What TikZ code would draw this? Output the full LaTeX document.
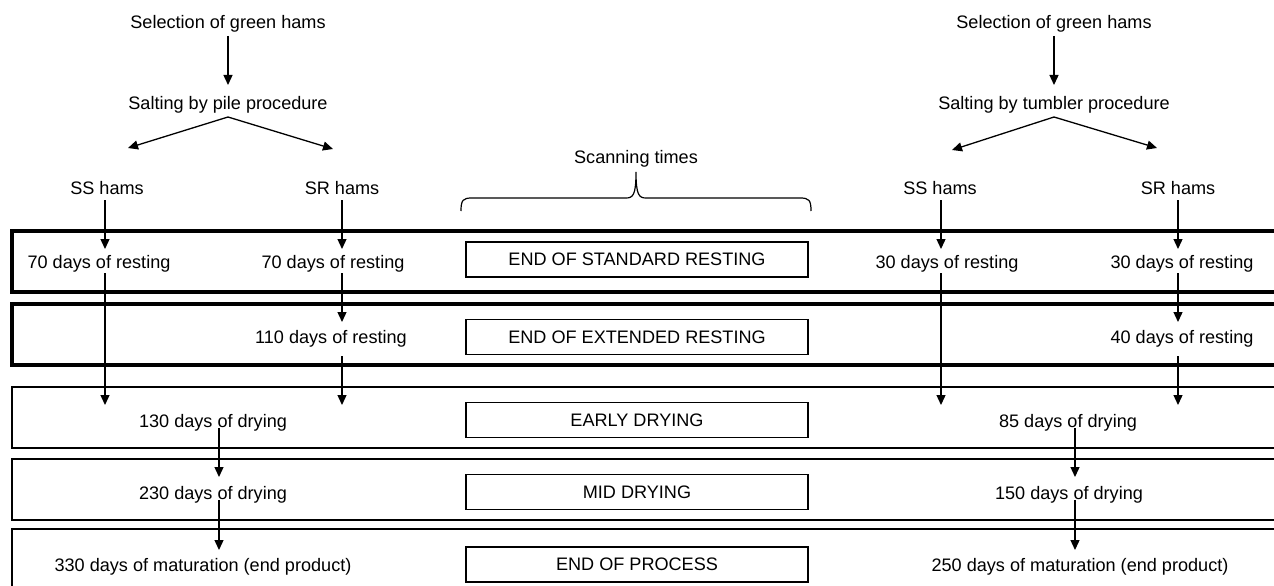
\documentclass[tikz,border=0pt]{standalone}
\usepackage{fontspec}
\setmainfont{Liberation Sans}
\usetikzlibrary{arrows.meta,calc}
\begin{document}
\begin{tikzpicture}[x=1pt,y=-1pt,
  lbl/.style={anchor=base,inner sep=0pt,font=\fontsize{18.1}{20}\selectfont},
  scanbox/.style={draw,line width=1.5pt,minimum width=342pt,minimum height=35pt,inner sep=0pt,font=\fontsize{18.1}{20}\selectfont},
  arr/.style={line width=1.3pt,-{Triangle[length=10pt,width=9pt]}},
  thickband/.style={line width=3.5pt},
  thinband/.style={line width=2pt}]
\useasboundingbox (0,0) rectangle (1274,586);
\clip (0,0) rectangle (1274,586);

% bands
\draw[thickband] (12,231) rectangle (1300,292);
\draw[thickband] (12,304) rectangle (1300,365);
\draw[thinband] (12,387) rectangle (1300,448);
\draw[thinband] (1300,459) -- (12,459) -- (12,520) -- (1300,520);
\draw[thinband] (12,529) rectangle (1300,610);

% column coordinates
\coordinate (cL) at (228,0);
\coordinate (cR) at (1054,0);
\coordinate (cSSL) at (105,0);
\coordinate (cSRL) at (342,0);
\coordinate (cDL) at (219,0);
\coordinate (cSSR) at (941,0);
\coordinate (cSRR) at (1178,0);
\coordinate (cDR) at (1075,0);

% left tree
\node[lbl] (selL) at (228,29) {Selection of green hams};
\node[lbl] (saltL) at (228,110) {Salting by pile procedure};
\node[lbl] (ssL) at (107,194) {SS hams};
\node[lbl] (srL) at (342,194) {SR hams};
\node[lbl] (r70a) at (99,268) {70 days of resting};
\node[lbl] (r70b) at (333,268) {70 days of resting};
\node[lbl] (r110) at (331,343) {110 days of resting};
\node[lbl] (d130) at (213,427) {130 days of drying};
\node[lbl] (d230) at (213,499) {230 days of drying};
\node[lbl] (m330) at (203,571) {330 days of maturation (end product)};

% right tree
\node[lbl] (selR) at (1054,29) {Selection of green hams};
\node[lbl] (saltR) at (1054,110) {Salting by tumbler procedure};
\node[lbl] (ssR) at (940,194) {SS hams};
\node[lbl] (srR) at (1178,194) {SR hams};
\node[lbl] (r30a) at (947,268) {30 days of resting};
\node[lbl] (r30b) at (1182,268) {30 days of resting};
\node[lbl] (r40) at (1182,343) {40 days of resting};
\node[lbl] (d85) at (1068,427) {85 days of drying};
\node[lbl] (d150) at (1069,499) {150 days of drying};
\node[lbl] (m250) at (1080,571) {250 days of maturation (end product)};

% scanning times
\node[lbl] (scan) at (636,163) {Scanning times};
\draw[line width=1.2pt] (461,211) .. controls (461,200) and (463,198) .. (472,198) -- (626,198)
  .. controls (633,198) and (636,195) .. (636,172)
  .. controls (636,195) and (639,198) .. (646,198) -- (800,198)
  .. controls (809,198) and (811,200) .. (811,211);
\node[scanbox] (b1) at (637,259.5) {END OF STANDARD RESTING};
\node[scanbox] (b2) at (637,337) {END OF EXTENDED RESTING};
\node[scanbox] (b3) at (637,420) {EARLY DRYING};
\node[scanbox] (b4) at (637,492) {MID DRYING};
\node[scanbox] (b5) at (637,564.5) {END OF PROCESS};

% left connectors
\draw[arr] ($(cL |- selL.base)+(0,7)$) -- ($(cL |- saltL.base)+(0,-25)$);
\draw[arr] ($(cL |- saltL.base)+(0,7)$) -- (128,148);
\draw[arr] ($(cL |- saltL.base)+(0,7)$) -- (333,149);
\draw[arr] ($(cSSL |- ssL.base)+(0,6)$) -- ($(cSSL |- r70a.base)+(0,-19)$);
\draw[arr] ($(cSSL |- r70a.base)+(0,5)$) -- ($(cSSL |- d130.base)+(0,-22)$);
\draw[arr] ($(cSRL |- srL.base)+(0,6)$) -- ($(cSRL |- r70b.base)+(0,-19)$);
\draw[arr] ($(cSRL |- r70b.base)+(0,5)$) -- ($(cSRL |- r110.base)+(0,-21)$);
\draw[arr] ($(cSRL |- r110.base)+(0,13)$) -- ($(cSRL |- d130.base)+(0,-22)$);
\draw[arr] ($(cDL |- d130.base)+(0,1)$) -- ($(cDL |- d230.base)+(0,-22)$);
\draw[arr] ($(cDL |- d230.base)+(0,1)$) -- ($(cDL |- m330.base)+(0,-21)$);

% right connectors
\draw[arr] ($(cR |- selR.base)+(0,7)$) -- ($(cR |- saltR.base)+(0,-25)$);
\draw[arr] ($(cR |- saltR.base)+(0,7)$) -- (952,150);
\draw[arr] ($(cR |- saltR.base)+(0,7)$) -- (1157,148);
\draw[arr] ($(cSSR |- ssR.base)+(0,6)$) -- ($(cSSR |- r30a.base)+(0,-19)$);
\draw[arr] ($(cSSR |- r30a.base)+(0,5)$) -- ($(cSSR |- d85.base)+(0,-22)$);
\draw[arr] ($(cSRR |- srR.base)+(0,6)$) -- ($(cSRR |- r30b.base)+(0,-19)$);
\draw[arr] ($(cSRR |- r30b.base)+(0,5)$) -- ($(cSRR |- r40.base)+(0,-21)$);
\draw[arr] ($(cSRR |- r40.base)+(0,13)$) -- ($(cSRR |- d85.base)+(0,-22)$);
\draw[arr] ($(cDR |- d85.base)+(0,1)$) -- ($(cDR |- d150.base)+(0,-22)$);
\draw[arr] ($(cDR |- d150.base)+(0,1)$) -- ($(cDR |- m250.base)+(0,-21)$);
\end{tikzpicture}
\end{document}
